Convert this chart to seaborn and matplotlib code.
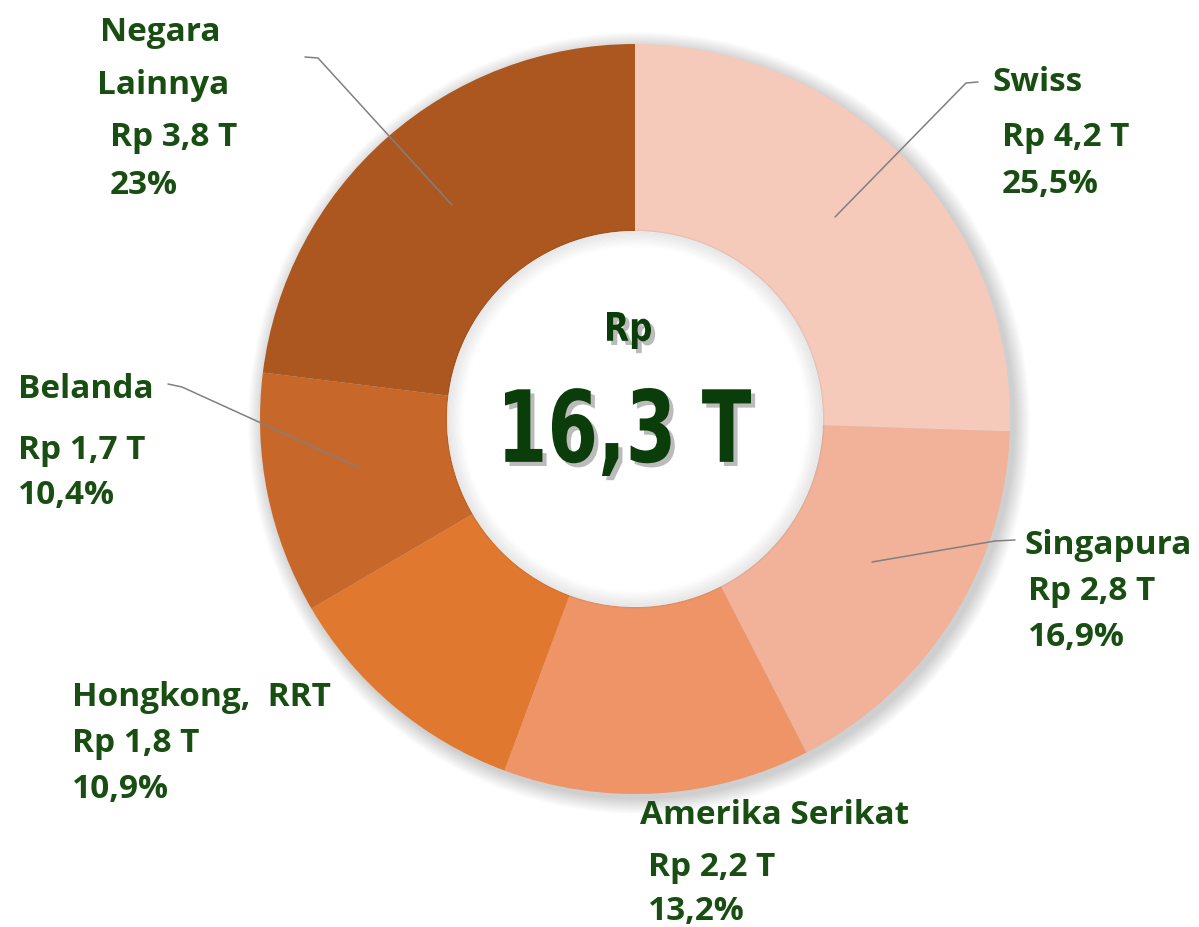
import matplotlib
matplotlib.use("Agg")
import matplotlib.pyplot as plt
import matplotlib.patheffects as pe
from matplotlib.patches import Circle, PathPatch
from matplotlib.textpath import TextPath
from matplotlib.font_manager import FontProperties
from matplotlib.transforms import Affine2D
import seaborn as sns

# data
negara = ["Swiss", "Singapura", "Amerika Serikat", "Hongkong,  RRT", "Belanda", "Negara\nLainnya"]
nilai = [4.2, 2.8, 2.2, 1.8, 1.7, 3.8]
persen = [25.5, 16.9, 13.2, 10.9, 10.4, 23.0]
warna = ["#F5CABB", "#F2B199", "#EE9466", "#E07830", "#C8672A", "#AC5720"]
total_label = "16,3 T"

sns.set_theme(style="white")
plt.rcParams["font.family"] = ["Open Sans", "DejaVu Sans"]

W, H = 1199, 927
fig = plt.figure(figsize=(W / 100, H / 100), dpi=100)
ax = fig.add_axes([0, 0, 1, 1])

cx, cy = 635, 419
R, r_in = 375, 188

# soft shadow around the ring
for i in range(16):
    ax.add_patch(Circle((cx + 4, cy + 4), R + 16 - i, color="#000000", alpha=0.012, lw=0))

# y axis is inverted below, so counterclock=True shows clockwise from the top
ax.pie(persen, colors=warna, startangle=-90, counterclock=True, center=(cx, cy),
       radius=R, wedgeprops=dict(width=R - r_in, edgecolor="none"), frame=True)
ax.set_xlim(0, W)
ax.set_ylim(H, 0)
ax.set_aspect("equal")
ax.axis("off")

# hole with a soft inner shadow
ax.add_patch(Circle((cx, cy), r_in, color="white", lw=0, zorder=3))
for i in range(14):
    ax.add_patch(Circle((cx, cy), r_in - i * 1.2, fill=False, lw=2.2,
                        edgecolor="#000000", alpha=0.04 * (14 - i) / 14, zorder=4))

dark = "#0B3D0B"
green = "#184E12"


def fit_text(s, x0, x1, y0, y1):
    # draw text as a path squeezed into a pixel box (condensed look)
    tp = TextPath((0, 0), s, size=100, prop=FontProperties(family="DejaVu Sans", weight="bold"))
    ext = tp.get_extents()
    sx = (x1 - x0) / ext.width
    sy = (y1 - y0) / ext.height
    tr = Affine2D().translate(-ext.x0, -ext.y1).scale(sx, -sy).translate(x0, y0)
    patch = PathPatch(tr.transform_path(tp), facecolor=dark, edgecolor="none", zorder=5)
    patch.set_path_effects([pe.SimplePatchShadow(offset=(3, -3), shadow_rgbFace="#555555", alpha=0.4),
                            pe.Normal()])
    ax.add_patch(patch)


fit_text("Rp", 607, 651, 312, 349)
fit_text(total_label, 505, 751, 388, 476)


def rp(v):
    return "Rp " + f"{v:.1f}".replace(".", ",") + " T"


def pc(p):
    s = f"{p:.1f}".replace(".", ",")
    return (s[:-2] if s.endswith(",0") else s) + "%"


lab_pos = [
    [(993, 82), (1002, 137), (1002, 184)],
    [(1025, 545), (1028, 592), (1028, 637)],
    [(640, 815), (648, 867), (648, 912)],
    [(72, 697), (72, 743), (72, 790)],
    [(18, 390), (18, 450), (18, 495)],
    [(100, 32), (110, 137), (110, 185)],
]
kw = dict(fontsize=24, fontweight="bold", color=green, va="center", ha="left", zorder=6)
for name, v, p, pos in zip(negara, nilai, persen, lab_pos):
    if "\n" in name:
        a, b = name.split("\n")
        ax.text(pos[0][0], pos[0][1], a, **kw)
        ax.text(pos[0][0] - 3, pos[0][1] + 53, b, **kw)
    else:
        ax.text(pos[0][0], pos[0][1], name, **kw)
    ax.text(pos[1][0], pos[1][1], rp(v), **kw)
    ax.text(pos[2][0], pos[2][1], pc(p), **kw)

# leader lines
lines = [
    [(978, 82), (966, 83), (835, 217)],
    [(1015, 540), (995, 541), (872, 562)],
    [(168, 384), (182, 387), (360, 468)],
    [(305, 57), (318, 58), (452, 205)],
]
for pts in lines:
    xs, ys = zip(*pts)
    ax.plot(xs, ys, color="#808080", lw=1.1, zorder=6)

fig.savefig("out.png", dpi=100)
